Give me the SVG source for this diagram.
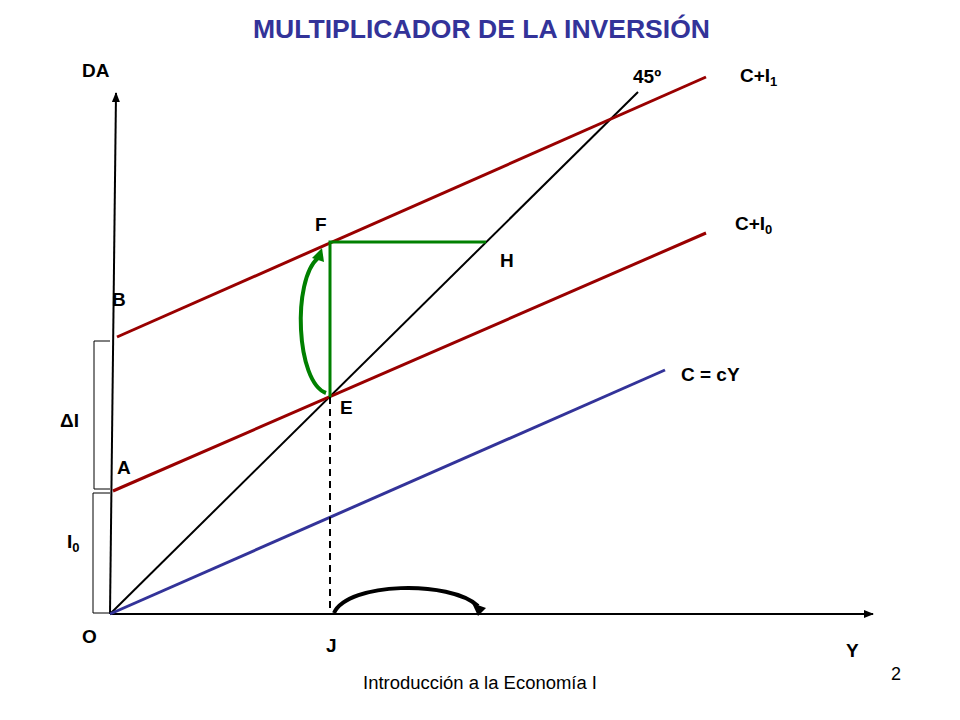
<svg xmlns="http://www.w3.org/2000/svg" width="960" height="720" viewBox="0 0 960 720">
<defs>
<marker id="ah" markerWidth="10" markerHeight="8" refX="9" refY="4" orient="auto" markerUnits="userSpaceOnUse">
<path d="M0,0 L10,4 L0,8 z" fill="#000"/>
</marker>
<style>
.lbl{font-family:"Liberation Sans",Arial,sans-serif;font-weight:bold;font-size:19px;fill:#000}
.reg{font-family:"Liberation Sans",Arial,sans-serif;font-size:18px;fill:#000}
.title{font-family:"Liberation Sans",Arial,sans-serif;font-weight:bold;font-size:26px;fill:#333399}
.ax{stroke:#000;stroke-width:2;fill:none}
.red{stroke:#990000;stroke-width:3;fill:none}
.blue{stroke:#333399;stroke-width:3;fill:none}
.green{stroke:#008000;stroke-width:3;fill:none}
.br{stroke:#000;stroke-width:1;fill:none}
</style>
</defs>
<rect width="960" height="720" fill="#fff"/>
<text class="title" x="253" y="38" textLength="457" lengthAdjust="spacingAndGlyphs">MULTIPLICADOR DE LA INVERSIÓN</text>
<g id="connectors">
<line class="ax" x1="110" y1="614" x2="116" y2="93" marker-end="url(#ah)"/>
<line class="ax" x1="110" y1="614" x2="873" y2="614" marker-end="url(#ah)"/>
<path class="br" d="M110,341 H94 V489 H110"/>
<path class="br" d="M110,493 H93 V613 H110"/>
<line x1="110" y1="614" x2="638" y2="92" stroke="#000" stroke-width="2"/>
<line class="blue" x1="110" y1="614" x2="665" y2="370"/>
<line class="red" x1="113" y1="491" x2="706" y2="233"/>
<line class="red" x1="117" y1="337" x2="706" y2="77"/>
<line x1="330" y1="397" x2="330" y2="614" stroke="#000" stroke-width="2" stroke-dasharray="7,5"/>
<path class="green" d="M330,397 V242 H486"/>
<path d="M326,393 C296,382 292,280 318,258" stroke="#008000" stroke-width="4" fill="none"/>
<path d="M312,258 L322,248 L324,262 z" fill="#008000"/>
<path d="M334,613 C348,582 450,580 478,606" stroke="#000" stroke-width="4" fill="none"/>
<path d="M472,603 L486,608 L478,616 z" fill="#000"/>
</g>
<g id="labels">
<text class="lbl" x="82" y="77">DA</text>
<text class="lbl" x="633" y="83">45º</text>
<text class="lbl" x="740" y="82">C+I<tspan font-size="13" dy="4">1</tspan></text>
<text class="lbl" x="735" y="230">C+I<tspan font-size="13" dy="4">0</tspan></text>
<text class="lbl" x="315" y="231">F</text>
<text class="lbl" x="500" y="267">H</text>
<text class="lbl" x="112" y="306">B</text>
<text class="lbl" x="681" y="381" font-size="21">C = cY</text>
<text class="lbl" x="340" y="414">E</text>
<text class="lbl" x="60" y="427">ΔI</text>
<text class="lbl" x="117" y="474">A</text>
<text class="lbl" x="67" y="548">I<tspan font-size="13" dy="4">0</tspan></text>
<text class="lbl" x="82" y="643">O</text>
<text class="lbl" x="326" y="652">J</text>
<text class="lbl" x="846" y="657">Y</text>
<text class="reg" x="891" y="680">2</text>
<text class="reg" x="363" y="689" textLength="234" lengthAdjust="spacingAndGlyphs">Introducción a la Economía I</text>
</g>
</svg>
